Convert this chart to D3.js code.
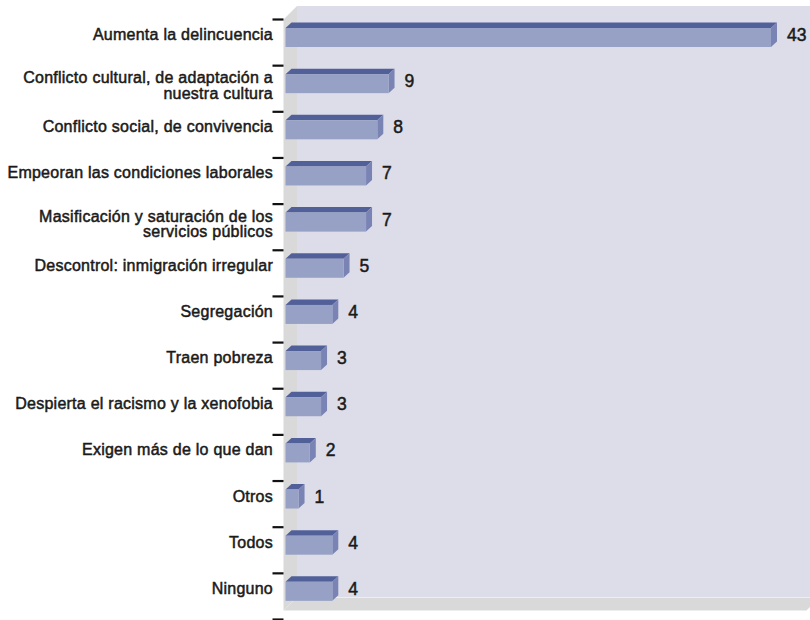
<!DOCTYPE html>
<html>
<head>
<meta charset="utf-8">
<script src="https://cdn.jsdelivr.net/npm/d3@7"></script>
<style>
  html, body { margin: 0; padding: 0; background: #ffffff; }
  svg { display: block; }
  .cat { font-family: "Liberation Sans", Arial, Helvetica, sans-serif; font-weight: 400; font-size: 16px; letter-spacing: 0.25px; fill: #1a1a1a; stroke: #1a1a1a; stroke-width: 0.5px; }
  .val { font-family: "Liberation Sans", Arial, Helvetica, sans-serif; font-weight: 400; font-size: 17.5px; fill: #1a1a1a; stroke: #1a1a1a; stroke-width: 0.5px; }
</style>
</head>
<body>
<svg id="chart" width="810" height="620"></svg>
<script>
// Categories (top to bottom) and their values
const categories = [
  "Aumenta la delincuencia",
  "Conflicto cultural, de adaptación a\nnuestra cultura",
  "Conflicto social, de convivencia",
  "Empeoran las condiciones laborales",
  "Masificación y saturación de los\nservicios públicos",
  "Descontrol: inmigración irregular",
  "Segregación",
  "Traen pobreza",
  "Despierta el racismo y la xenofobia",
  "Exigen más de lo que dan",
  "Otros",
  "Todos",
  "Ninguno"
];
const values = [43, 9, 8, 7, 7, 5, 4, 3, 3, 2, 1, 4, 4];

const svg = d3.select("#chart");

// Plot box (front plane) and 3D depth of the walls
const plot = { left: 283.5, right: 806.5, top: 19.5, bottom: 619.5 };
const wallDepth = { dx: 13.5, dy: -13.5 };
const floorY = 610.5;

// Scales
const y = d3.scaleBand().domain(categories).range([plot.top, plot.bottom]).padding(0);
const x = d3.scaleLinear().domain([0, 43]).range([287.3, 771]);

// Bar depth
const bd = { dx: 6, dy: -5.5 };
const barTop = 8.5, barBottom = 27.5, barLeft = 285.5;

const colors = {
  backWall: "#dcdde9",
  sideWall: "#d9d9d9",
  floorEdge: "#eeeeee",
  front: "#97a0c5",
  top: "#52609a",
  side: "#7a84b4"
};

// Back wall
svg.append("rect")
  .attr("x", plot.left + wallDepth.dx)
  .attr("y", plot.top + wallDepth.dy)
  .attr("width", 830 - (plot.left + wallDepth.dx))
  .attr("height", floorY + wallDepth.dy - (plot.top + wallDepth.dy))
  .attr("fill", colors.backWall);

// Left wall
svg.append("polygon")
  .attr("points", [
    [plot.left, plot.top],
    [plot.left + wallDepth.dx, plot.top + wallDepth.dy],
    [plot.left + wallDepth.dx, floorY + wallDepth.dy],
    [plot.left, floorY]
  ].map(p => p.join(",")).join(" "))
  .attr("fill", colors.sideWall);

// Floor
svg.append("polygon")
  .attr("points", [
    [plot.left, floorY],
    [plot.left + wallDepth.dx, floorY + wallDepth.dy],
    [plot.right + wallDepth.dx, floorY + wallDepth.dy],
    [plot.right, floorY]
  ].map(p => p.join(",")).join(" "))
  .attr("fill", colors.sideWall);

svg.append("line")
  .attr("x1", plot.left + wallDepth.dx).attr("x2", 830)
  .attr("y1", floorY + wallDepth.dy + 0.5).attr("y2", floorY + wallDepth.dy + 0.5)
  .attr("stroke", colors.floorEdge).attr("stroke-width", 1.2);

// Tick marks at category boundaries
const tickYs = categories.map(c => y(c)).concat([plot.bottom]);
svg.append("g").selectAll("line")
  .data(tickYs)
  .join("line")
  .attr("x1", 272.5).attr("x2", plot.left)
  .attr("y1", d => d).attr("y2", d => d)
  .attr("stroke", "#111").attr("stroke-width", 2.2);

// Bars
const data = categories.map((c, i) => ({ c, v: values[i] }));
const bars = svg.append("g").selectAll("g").data(data).join("g");

bars.append("polygon") // top face
  .attr("points", d => {
    const t = y(d.c), xv = x(d.v);
    return [
      [barLeft, t + barTop],
      [barLeft + bd.dx, t + barTop + bd.dy],
      [xv + bd.dx, t + barTop + bd.dy],
      [xv, t + barTop]
    ].map(p => p.join(",")).join(" ");
  })
  .attr("fill", colors.top);

bars.append("polygon") // side face
  .attr("points", d => {
    const t = y(d.c), xv = x(d.v);
    return [
      [xv, t + barTop],
      [xv + bd.dx, t + barTop + bd.dy],
      [xv + bd.dx, t + barBottom + bd.dy],
      [xv, t + barBottom]
    ].map(p => p.join(",")).join(" ");
  })
  .attr("fill", colors.side);

bars.append("rect") // front face
  .attr("x", barLeft)
  .attr("y", d => y(d.c) + barTop)
  .attr("width", d => x(d.v) - barLeft)
  .attr("height", barBottom - barTop)
  .attr("fill", colors.front);

// Value labels
bars.append("text")
  .attr("class", "val")
  .attr("x", d => x(d.v) + bd.dx + 10)
  .attr("y", d => y(d.c) + 15.5)
  .attr("dominant-baseline", "central")
  .text(d => d.v);

// Category labels (right-aligned, one or two lines)
const labels = svg.append("g").selectAll("text").data(categories).join("text")
  .attr("class", "cat")
  .attr("text-anchor", "end");

labels.each(function (c) {
  const lines = c.split("\n");
  const t = y(c);
  const el = d3.select(this);
  const ys = lines.length === 1 ? [t + 15] : [t + 12, t + 27.5];
  lines.forEach((ln, k) => {
    el.append("tspan")
      .attr("x", 273)
      .attr("y", ys[k])
      .attr("dominant-baseline", "central")
      .text(ln);
  });
});
</script>
</body>
</html>
